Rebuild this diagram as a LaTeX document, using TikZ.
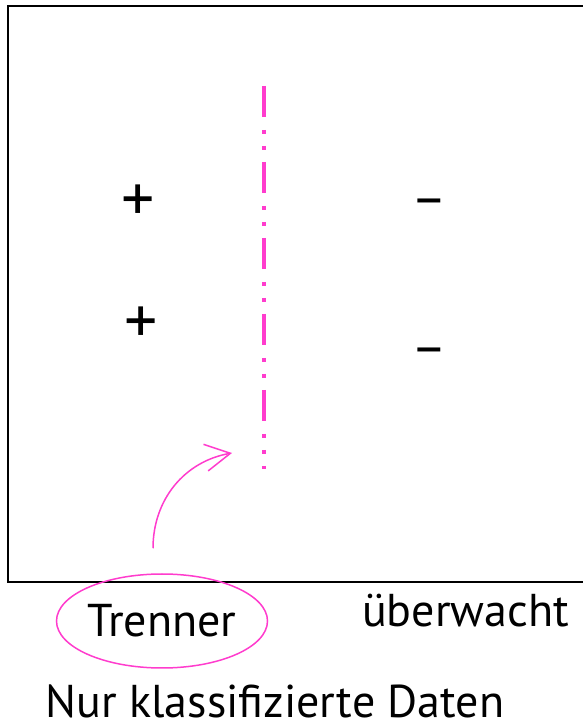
\documentclass[tikz,border=0pt]{standalone}
\usepackage{fontspec}
\setmainfont{PT Sans}
\usetikzlibrary{shapes.geometric,arrows.meta}

\definecolor{trennpink}{RGB}{255,60,205}

\tikzset{
  label-text/.style={font=\fontsize{46}{52}\selectfont, inner sep=0pt, anchor=base},
  plus-sign/.style={font=\fontsize{66}{72}\selectfont, inner sep=0pt},
  minus-sign/.style={font=\fontsize{54}{60}\selectfont, inner sep=0pt},
  trennlinie/.style={trennpink, line width=4pt, dash pattern=on 31pt off 13pt on 4pt off 12pt on 4pt off 12pt},
  pfeil/.style={trennpink, line width=1.5pt, -{Straight Barb[length=25pt, width=27pt, line width=1.5pt]}},
}

\begin{document}
\begin{tikzpicture}[x=1pt, y=1pt]

      \useasboundingbox (0,0) rectangle (582,724);

      % Frame (runs off the right side)
      \draw[line width=2.5pt] (600,718) -- (8,718) -- (8,142) -- (600,142);

      % Define nodes
      \node[plus-sign]                     (plus-a)  at (138,521) {+};
      \node[plus-sign]                     (plus-b)  at (141,399) {+};
      \node[minus-sign]                    (minus-a) at (429,516) {\textendash};
      \node[minus-sign]                    (minus-b) at (429,367) {\textendash};

      \node[ellipse, draw=trennpink, line width=1.5pt, minimum width=211pt, minimum height=94pt,
            font=\fontsize{46}{52}\selectfont, inner sep=0pt] (trenner) at (162,103) {Trenner};
      \node[label-text]                    (ueberwacht) at (465.5,97) {überwacht};
      \node[label-text]                    (daten)      at (275,6)    {Nur klassifizierte Daten};

      % Separator
      \coordinate (sep-top) at (264,638);
      \coordinate (sep-bot) at (264,255);
      \draw[trennlinie] (sep-top) -- (sep-bot);

      % Connect the nodes
      \draw[pfeil] ([shift={(-9pt,25pt)}]trenner.north) to[out=90, in=190] ([shift={(-32pt,16pt)}]sep-bot);

\end{tikzpicture}
\end{document}
